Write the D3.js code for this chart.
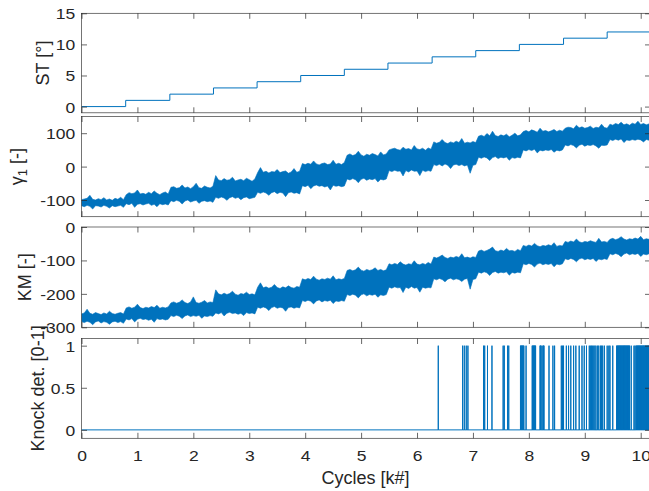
<!DOCTYPE html>
<html>
<head>
<meta charset="utf-8">
<script src="https://cdn.jsdelivr.net/npm/d3@7"></script>
<style>
  body { margin: 0; background: #fff; }
  svg { display: block; }
</style>
</head>
<body>
<svg id="chart" width="649" height="491"></svg>
<script>
// ---- data ----------------------------------------------------------------
const xTicks = [0, 1, 2, 3, 4, 5, 6, 7, 8, 9, 10];

// spark timing steps: start cycle [k#] and value [deg]
const stStart = [0, 0.79, 1.58, 2.36, 3.14, 3.92, 4.70, 5.48, 6.27, 7.05, 7.83, 8.62, 9.40];
const stValue = [0, 1, 2, 3, 4, 5, 6, 7, 8, 9, 10, 11, 12];

// noisy signals, given as upper / lower envelope sampled every 0.05 k#
const sampleStep = 0.05;

const gammaHi = [
  -99,-97,-95,-86,-98,-100,-96,-99,-93,-100,-97,-101,-95,-98,-92,-99,
  -84,-78,-81,-79,-70,-82,-80,-83,-77,-81,-73,-80,-84,-79,-76,-82,
  -62,-60,-65,-63,-55,-64,-61,-66,-60,-50,-63,-65,-58,-62,-64,-59,
  -27,-40,-42,-36,-41,-39,-32,-43,-40,-38,-42,-35,-39,-44,-37,
  -18,-3,-17,-14,-19,-15,-16,-9,-18,-15,-13,-20,-16,-6,-17,-14,
  9,6,10,7,17,8,5,9,11,6,8,19,7,10,6,12,
  34,38,33,36,46,35,31,37,34,39,36,32,44,35,38,
  50,53,55,51,49,58,52,54,50,63,53,51,55,49,56,52,
  74,70,73,81,72,69,74,71,76,72,84,70,73,71,75,72,
  91,94,90,99,92,106,93,90,95,92,97,89,94,100,92,95,
  105,108,104,110,107,103,115,106,108,104,107,111,105,109,106,
  115,118,117,113,124,116,119,115,117,121,114,118,116,127,117,115,
  127,124,129,126,133,125,128,124,130,127,136,126,129,125,128
];
const gammaLo = [
  -117,-120,-116,-119,-127,-117,-118,-121,-116,-119,-124,-117,-120,-118,-116,-122,
  -111,-114,-110,-122,-113,-111,-115,-112,-110,-116,-113,-120,-111,-114,-112,-115,
  -102,-105,-101,-104,-112,-103,-100,-106,-103,-101,-110,-104,-102,-105,-103,-107,
  -92,-95,-91,-94,-101,-93,-90,-95,-92,-99,-93,-91,-96,-94,-92,
  -77,-80,-76,-79,-86,-78,-75,-81,-77,-79,-90,-78,-76,-80,-78,-82,
  -57,-60,-56,-66,-58,-55,-59,-57,-61,-58,-70,-56,-59,-57,-60,-58,
  -37,-40,-36,-39,-48,-38,-35,-41,-37,-39,-36,-46,-38,-40,-37,
  -12,-15,-11,-14,-13,-28,-12,-16,-10,-14,-13,-27,-11,-15,-12,-14,
  6,3,7,2,8,4,-6,5,7,3,6,2,5,-20,4,6,
  28,25,29,26,18,27,30,24,28,26,29,19,27,25,28,26,
  50,47,51,48,52,41,49,47,50,48,51,43,49,47,50,
  65,62,66,63,56,64,67,61,65,63,66,62,55,64,63,65,
  81,78,82,79,83,72,80,78,81,79,82,80,74,81,79
];

const kmHi = [
  -260,-257,-246,-258,-261,-256,-259,-262,-257,-260,-252,-259,-261,-258,-256,-260,
  -242,-239,-243,-240,-231,-241,-244,-240,-242,-238,-241,-234,-243,-240,-242,-239,
  -227,-224,-228,-225,-218,-226,-229,-224,-209,-226,-228,-225,-220,-227,-224,-226,
  -188,-200,-203,-198,-202,-199,-192,-201,-204,-199,-201,-195,-202,-200,-203,
  -180,-167,-182,-179,-183,-180,-172,-181,-184,-179,-182,-176,-181,-183,-178,-180,
  -155,-158,-154,-157,-147,-156,-159,-155,-157,-153,-156,-146,-158,-155,-157,-154,
  -130,-127,-131,-128,-120,-129,-132,-127,-130,-128,-122,-130,-127,-131,-128,
  -110,-113,-109,-112,-104,-111,-114,-110,-112,-101,-111,-113,-109,-112,-106,-111,
  -90,-93,-89,-84,-91,-94,-90,-92,-88,-91,-80,-92,-90,-93,-89,-91,
  -72,-69,-73,-70,-66,-60,-71,-73,-69,-72,-64,-71,-70,-73,-67,-71,
  -55,-58,-54,-57,-49,-56,-59,-55,-57,-53,-56,-47,-58,-55,-57,
  -43,-46,-42,-45,-36,-44,-47,-43,-45,-41,-44,-46,-34,-45,-43,-46,
  -37,-34,-38,-35,-29,-36,-39,-35,-37,-33,-36,-28,-38,-35,-37
];
const kmLo = [
  -283,-286,-282,-285,-292,-284,-281,-287,-283,-285,-291,-284,-282,-286,-283,-288,
  -275,-278,-274,-284,-276,-273,-277,-275,-279,-276,-285,-274,-277,-275,-278,-276,
  -265,-268,-264,-267,-274,-266,-263,-268,-265,-267,-264,-273,-266,-268,-265,-267,
  -257,-260,-256,-266,-258,-255,-259,-257,-261,-258,-265,-256,-259,-257,-260,
  -240,-243,-239,-242,-250,-241,-238,-243,-240,-242,-252,-241,-239,-243,-240,-242,
  -220,-223,-219,-222,-230,-221,-218,-224,-220,-222,-219,-229,-221,-223,-220,-222,
  -202,-205,-201,-204,-212,-203,-200,-206,-202,-204,-201,-210,-203,-205,-202,
  -180,-183,-179,-182,-181,-196,-180,-184,-178,-183,-181,-195,-180,-183,-181,-182,
  -155,-158,-154,-157,-164,-156,-153,-158,-155,-157,-163,-156,-154,-186,-157,-155,
  -135,-138,-134,-137,-145,-136,-133,-138,-135,-137,-134,-144,-136,-138,-135,-137,
  -110,-113,-109,-112,-120,-111,-108,-113,-110,-112,-109,-119,-111,-113,-110,
  -95,-98,-94,-97,-104,-96,-93,-98,-95,-97,-94,-103,-96,-98,-95,-97,
  -80,-83,-79,-82,-89,-81,-78,-83,-80,-82,-79,-88,-81,-83,-80
];

// cycles [k#] flagged as knocking (detector output = 1)
const knockAt = [
  6.38, 6.815, 6.845, 6.88, 6.91, 7.19, 7.21, 7.26, 7.34, 7.54, 7.56, 7.62, 7.64,
  7.85, 7.86, 7.87, 7.88, 7.89, 7.90, 7.91, 7.95, 8.06, 8.07, 8.08, 8.09, 8.10,
  8.11, 8.12, 8.20, 8.21, 8.22, 8.25, 8.26, 8.27, 8.36, 8.43, 8.46, 8.58, 8.60,
  8.62, 8.67, 8.71, 8.75, 8.80, 8.84, 8.90, 8.95, 8.99, 9.03, 9.08, 9.10, 9.12,
  9.14, 9.16, 9.18, 9.20, 9.23, 9.25, 9.28, 9.30, 9.32, 9.35, 9.40, 9.43, 9.45,
  9.50, 9.57, 9.58, 9.59, 9.60, 9.61, 9.62, 9.63, 9.64, 9.65, 9.66, 9.67, 9.68,
  9.69, 9.70, 9.71, 9.72, 9.73, 9.74, 9.75, 9.76, 9.77, 9.78, 9.79, 9.80, 9.83,
  9.88, 9.90, 9.92, 9.93, 9.94, 9.95, 9.96, 9.97, 9.98, 9.99, 10.00, 10.01,
  10.02, 10.03, 10.04, 10.05, 10.06, 10.07, 10.08, 10.09, 10.10, 10.11, 10.12,
  10.13, 10.14, 10.15
];

// ---- layout --------------------------------------------------------------
const blue = "#0072BD";
const ink = "#262626";
const fontFamily = "'Liberation Sans', Arial, Helvetica, sans-serif";
const left = 81.5, right = 650.5;
const tickLen = 5.5;

const svg = d3.select("#chart");
const defs = svg.append("defs");

const x = d3.scaleLinear().domain([0, 10.175]).range([left, right]);

const panels = [
  { top: 13.3,  bottom: 112.8, domain: [-1, 15],       ticks: [0, 5, 10, 15],         label: "ST [°]",          labelX: 49 },
  { top: 116.5, bottom: 216.7, domain: [-150, 150],    ticks: [-100, 0, 100],         label: null,              labelX: 23 },
  { top: 227.0, bottom: 327.3, domain: [-300, 0],      ticks: [-300, -200, -100, 0],  label: "KM [-]",          labelX: 31 },
  { top: 338.5, bottom: 438.3, domain: [-0.1, 1.085],  ticks: [0, 0.5, 1],            label: "Knock det. [0-1]", labelX: 43.5 }
];

// tick labels with a plain hyphen for negatives
const tickText = d => String(d);

function styleAxis(sel) {
  sel.select(".domain").remove();
  sel.selectAll(".tick line").attr("stroke", ink).attr("stroke-width", 0.7);
  sel.selectAll("text")
    .attr("fill", ink)
    .attr("font-family", fontFamily)
    .attr("font-size", "15.5px");
}

const envelope = (hi, lo) => {
  const n = Math.min(hi.length, lo.length);
  return hi.slice(0, n).map((h, i) => ({ x: i * sampleStep, hi: h, lo: lo[i] }));
};

panels.forEach((p, i) => {
  const y = d3.scaleLinear().domain(p.domain).range([p.bottom, p.top]);
  const g = svg.append("g");

  defs.append("clipPath").attr("id", "clip" + i)
    .append("rect")
    .attr("x", left).attr("y", p.top)
    .attr("width", right - left).attr("height", p.bottom - p.top);

  const plot = g.append("g").attr("clip-path", `url(#clip${i})`);

  if (i === 0) {
    const pts = stStart.map((s, k) => [s, stValue[k]]);
    pts.push([10.175, stValue[stValue.length - 1]]);
    plot.append("path")
      .attr("d", d3.line().x(d => x(d[0])).y(d => y(d[1])).curve(d3.curveStepAfter)(pts))
      .attr("fill", "none").attr("stroke", blue).attr("stroke-width", 1);
  } else if (i === 1 || i === 2) {
    const data = i === 1 ? envelope(gammaHi, gammaLo) : envelope(kmHi, kmLo);
    plot.append("path")
      .attr("d", d3.area().x(d => x(d.x)).y0(d => y(d.lo)).y1(d => y(d.hi))(data))
      .attr("fill", blue).attr("stroke", blue).attr("stroke-width", 0.6)
      .attr("stroke-linejoin", "miter");
  } else {
    const pts = [[0, 0]];
    knockAt.forEach(k => { pts.push([k, 0], [k, 1], [k, 0]); });
    pts.push([10.175, 0]);
    plot.append("path")
      .attr("d", d3.line().x(d => x(d[0])).y(d => y(d[1]))(pts))
      .attr("fill", "none").attr("stroke", blue).attr("stroke-width", 1)
      .attr("stroke-linejoin", "bevel");
  }

  // box
  g.append("rect")
    .attr("x", left).attr("y", p.top)
    .attr("width", right - left).attr("height", p.bottom - p.top)
    .attr("fill", "none").attr("stroke", "#3a3a3a").attr("stroke-width", 0.7);

  // x ticks (inward, both sides)
  const isLast = i === panels.length - 1;
  const bottomAxis = g.append("g").attr("transform", `translate(0,${p.bottom})`)
    .call(d3.axisBottom(x).tickValues(xTicks).tickSize(-tickLen).tickSizeOuter(0)
      .tickFormat(isLast ? tickText : () => ""));
  styleAxis(bottomAxis);
  bottomAxis.selectAll("text")
    .attr("y", 23).attr("dy", "0")
    .attr("transform", "scale(1.13,1)")
    .attr("x", 0);
  g.append("g").attr("transform", `translate(0,${p.top})`)
    .call(d3.axisTop(x).tickValues(xTicks).tickSize(-tickLen).tickSizeOuter(0).tickFormat(() => ""))
    .call(styleAxis);

  // y ticks (inward, both sides)
  const leftAxis = g.append("g").attr("transform", `translate(${left},0)`)
    .call(d3.axisLeft(y).tickValues(p.ticks).tickSize(-tickLen).tickSizeOuter(0)
      .tickFormat(tickText));
  styleAxis(leftAxis);
  leftAxis.selectAll("text")
    .attr("x", -5.6)
    .attr("dy", "0.35em")
    .attr("transform", "scale(1.13,1)");
  g.append("g").attr("transform", `translate(${right},0)`)
    .call(d3.axisRight(y).tickValues(p.ticks).tickSize(-tickLen).tickSizeOuter(0).tickFormat(() => ""))
    .call(styleAxis);

  // y label
  const cy = (p.top + p.bottom) / 2;
  const lab = svg.append("text")
    .attr("transform", `translate(${p.labelX},${cy}) rotate(-90)`)
    .attr("text-anchor", "middle")
    .attr("fill", ink)
    .attr("font-family", fontFamily)
    .attr("font-size", "18px");
  if (p.label) {
    lab.text(p.label);
  } else {
    lab.append("tspan").text("γ");
    lab.append("tspan").attr("font-size", "13px").attr("dy", "4").text("1");
    lab.append("tspan").attr("dy", "-4").text(" [-]");
  }
});

// x label
svg.append("text")
  .attr("x", (left + right) / 2 - 0.5)
  .attr("y", 484)
  .attr("text-anchor", "middle")
  .attr("fill", ink)
  .attr("font-family", fontFamily)
  .attr("font-size", "18px")
  .text("Cycles [k#]");
</script>
</body>
</html>
